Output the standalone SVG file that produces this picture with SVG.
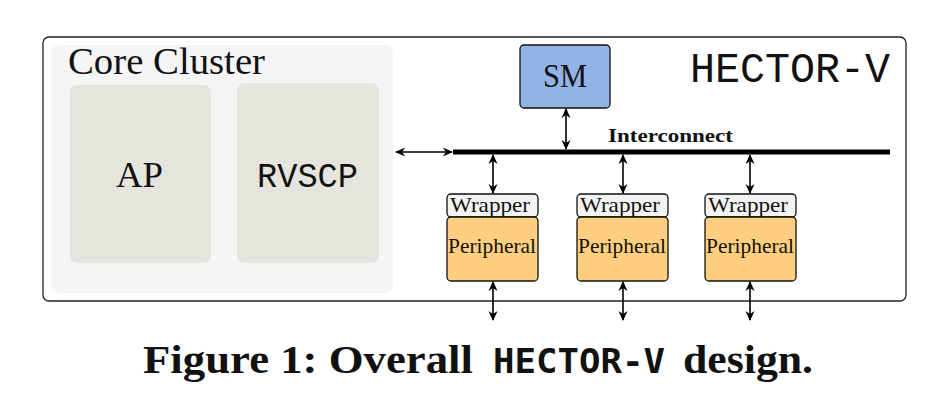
<svg xmlns="http://www.w3.org/2000/svg" width="950" height="400" viewBox="0 0 950 400">
<defs>
<marker id="ah" viewBox="0 0 10 10" refX="9" refY="5" markerWidth="10" markerHeight="10" markerUnits="userSpaceOnUse" orient="auto-start-reverse">
<path d="M0,0.5 L10,5 L0,9.5 L3,5 Z" fill="#000"/>
</marker>
<style>
.ser{font-family:"Liberation Serif","DejaVu Serif",serif;fill:#111}
.mono{font-family:"Liberation Mono","DejaVu Sans Mono",monospace;fill:#111}
.box{stroke:#111;stroke-width:1.3}
.conn{stroke:#000;stroke-width:1.6;fill:none;marker-start:url(#ah);marker-end:url(#ah)}
.cap{font-family:"Liberation Serif",serif;font-weight:bold;fill:#111;font-size:39px}
</style>
</defs>
<rect width="950" height="400" fill="#fff"/>
<g id="system">
<rect x="43" y="37" width="863" height="264" rx="6" fill="#fff" stroke="#222" stroke-width="1.3"/>
<text class="mono" x="690" y="82" font-size="42" textLength="200" lengthAdjust="spacingAndGlyphs">HECTOR-V</text>
</g>
<g id="core-cluster">
<rect x="51" y="45" width="342" height="248" rx="7" fill="#f5f5f5"/>
<text class="ser" x="68" y="74" font-size="37" textLength="197" lengthAdjust="spacingAndGlyphs">Core Cluster</text>
</g>
<g id="ap">
<rect x="70" y="85" width="141" height="178" rx="7" fill="#e5e4dd"/>
<text class="ser" x="116" y="187" font-size="36" textLength="47" lengthAdjust="spacingAndGlyphs">AP</text>
</g>
<g id="rvscp">
<rect x="237" y="83" width="142" height="180" rx="7" fill="#e5e4dd"/>
<text class="mono" x="257" y="187" font-size="35" textLength="101" lengthAdjust="spacingAndGlyphs">RVSCP</text>
</g>
<g id="sm">
<rect class="box" x="520" y="45" width="90" height="63" rx="4" fill="#92b3e6"/>
<text class="ser" x="543" y="87" font-size="34" textLength="44" lengthAdjust="spacingAndGlyphs">SM</text>
</g>
<g id="interconnect">
<rect x="453" y="149.5" width="437" height="5" fill="#000"/>
<text class="ser" x="608" y="142" font-size="19" font-weight="bold" textLength="125" lengthAdjust="spacingAndGlyphs">Interconnect</text>
</g>
<g id="peripheral-1">
<rect class="box" x="447" y="194" width="91" height="23" rx="4" fill="#f3f3f3"/>
<text class="ser" x="450" y="212" font-size="22" textLength="80" lengthAdjust="spacingAndGlyphs">Wrapper</text>
<rect class="box" x="447" y="217" width="91" height="64" rx="4" fill="#ffcf7f"/>
<text class="ser" x="448" y="253" font-size="21" textLength="88" lengthAdjust="spacingAndGlyphs">Peripheral</text>
</g>
<g id="peripheral-2">
<rect class="box" x="577" y="194" width="91" height="23" rx="4" fill="#f3f3f3"/>
<text class="ser" x="580" y="212" font-size="22" textLength="80" lengthAdjust="spacingAndGlyphs">Wrapper</text>
<rect class="box" x="577" y="217" width="91" height="64" rx="4" fill="#ffcf7f"/>
<text class="ser" x="578" y="253" font-size="21" textLength="88" lengthAdjust="spacingAndGlyphs">Peripheral</text>
</g>
<g id="peripheral-3">
<rect class="box" x="705" y="194" width="91" height="23" rx="4" fill="#f3f3f3"/>
<text class="ser" x="708" y="212" font-size="22" textLength="80" lengthAdjust="spacingAndGlyphs">Wrapper</text>
<rect class="box" x="705" y="217" width="91" height="64" rx="4" fill="#ffcf7f"/>
<text class="ser" x="706" y="253" font-size="21" textLength="88" lengthAdjust="spacingAndGlyphs">Peripheral</text>
</g>
<g id="connectors">
<line class="conn" x1="396" y1="152" x2="452" y2="152"/>
<line class="conn" x1="566" y1="109" x2="566" y2="149"/>
<line class="conn" x1="493" y1="155" x2="493" y2="193"/>
<line class="conn" x1="623" y1="155" x2="623" y2="193"/>
<line class="conn" x1="750" y1="155" x2="750" y2="193"/>
<line class="conn" x1="493" y1="282" x2="493" y2="320"/>
<line class="conn" x1="623" y1="282" x2="623" y2="320"/>
<line class="conn" x1="750" y1="282" x2="750" y2="320"/>
</g>
<g id="caption">
<text class="cap" x="143" y="373" textLength="330" lengthAdjust="spacingAndGlyphs">Figure 1: Overall</text>
<text x="493" y="373" font-family="DejaVu Sans Mono, monospace" font-weight="bold" font-size="33" fill="#111" textLength="172" lengthAdjust="spacingAndGlyphs">HECTOR-V</text>
<text class="cap" x="683" y="373" textLength="130" lengthAdjust="spacingAndGlyphs">design.</text>
</g>
</svg>
